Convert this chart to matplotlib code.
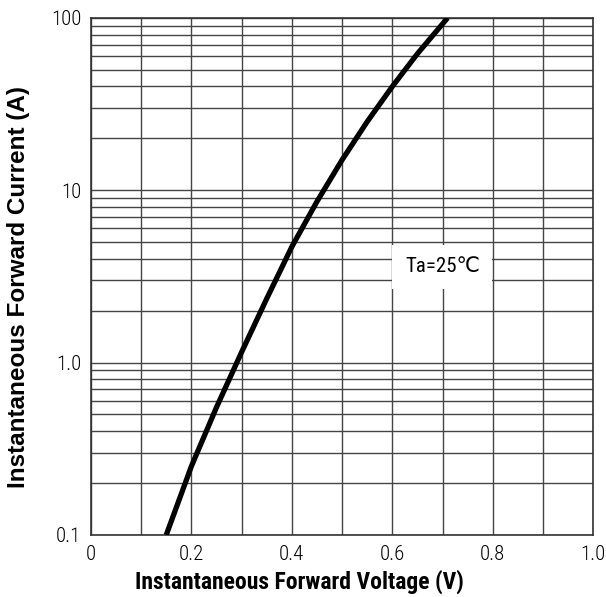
import numpy as np
import matplotlib.pyplot as plt
from matplotlib.ticker import FixedLocator, NullFormatter

# data
voltage = [0.15, 0.175, 0.2, 0.25, 0.3, 0.35, 0.4, 0.45, 0.5, 0.55, 0.6, 0.65, 0.71]
current = [0.1, 0.158, 0.25, 0.55, 1.15, 2.35, 4.7, 8.6, 15.0, 25.0, 40.0, 62.0, 100.0]
x_ticks = [0, 0.2, 0.4, 0.6, 0.8, 1.0]
x_labels = ['0', '0.2', '0.4', '0.6', '0.8', '1.0']
y_ticks = [0.1, 1.0, 10, 100]
y_labels = ['0.1', '1.0', '10', '100']

narrow = ['Roboto Condensed', 'DejaVu Sans']

fig = plt.figure(figsize=(6.06, 5.97), dpi=100)
ax = fig.add_axes([0.150, 0.104, 0.829, 0.866])

ax.set_yscale('log')
ax.set_xlim(0, 1.0)
ax.set_ylim(0.1, 100)

# grid
ax.xaxis.set_minor_locator(FixedLocator(np.arange(0.1, 1.0, 0.1)))
minor_y = [m * 10.0 ** d for d in (-1, 0, 1) for m in range(2, 10)]
ax.yaxis.set_minor_locator(FixedLocator(minor_y))
ax.yaxis.set_minor_formatter(NullFormatter())
ax.grid(which='both', color='#444444', linewidth=1.0)
ax.set_axisbelow(True)
ax.tick_params(which='both', length=0, pad=7)

ax.plot(voltage, current, color='black', linewidth=3.8, solid_capstyle='butt', zorder=3)

ax.set_xticks(x_ticks)
ax.set_xticklabels(x_labels, family=narrow, fontweight='light', fontsize=15)
ax.set_yticks(y_ticks)
ax.set_yticklabels(y_labels, family=narrow, fontweight='light', fontsize=15)

for s in ax.spines.values():
    s.set_color('#333333')
    s.set_linewidth(1.2)

ax.set_xlabel('Instantaneous Forward Voltage (V)', fontsize=17, fontweight='bold',
              family=narrow)
ax.xaxis.set_label_coords(0.416, -0.068)
ax.set_ylabel('Instantaneous Forward Current (A)', fontsize=17.5, fontweight='bold',
              family=['Liberation Sans', 'DejaVu Sans'])
ax.yaxis.set_label_coords(-0.122, 0.48)

ax.text(0.625, 3.6, 'Ta=25℃', fontsize=15, family=narrow,
        va='center', ha='left', zorder=4,
        bbox=dict(facecolor='white', edgecolor='none', pad=9))

fig.savefig('out.png', dpi=100)
